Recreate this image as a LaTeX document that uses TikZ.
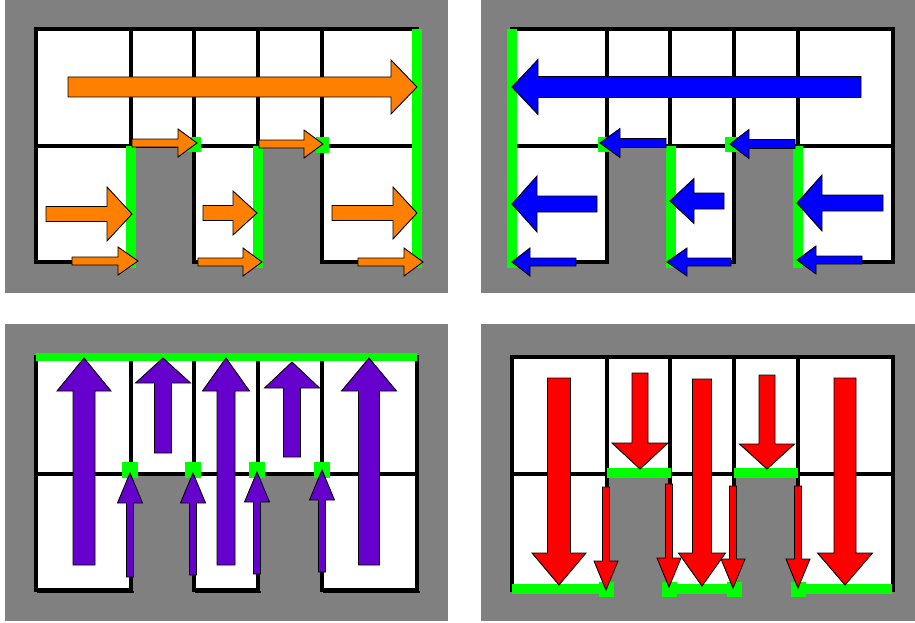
\documentclass[tikz,border=0pt]{standalone}

\definecolor{panelgray}{HTML}{808080}
\definecolor{doorgreen}{HTML}{00FF00}
\definecolor{floweast}{HTML}{FF8000}
\definecolor{flowwest}{HTML}{0000FF}
\definecolor{flownorth}{HTML}{6600CC}
\definecolor{flowsouth}{HTML}{FF0000}

% block arrow: style, tail, angle, length, body half width, head half width, head length
\newcommand{\flowarrow}[7]{%
    \draw[#1, shift={#2}, rotate=#3]
        (0,-#5) -- ({#4-#7},-#5) -- ({#4-#7},-#6) -- (#4,0)
        -- ({#4-#7},#6) -- ({#4-#7},#5) -- (0,#5) -- cycle;%
}

\begin{document}
\begin{tikzpicture}[
        x=1pt, y=-1pt,
        wall/.style={
            line width=3.5pt,
            line cap=rect
        },
        door/.style={
            doorgreen,
            line width=10pt
        },
        doorgap/.style={
            fill=doorgreen
        },
        eastflow/.style={
            draw=black,
            line width=0.9pt,
            fill=floweast
        },
        westflow/.style={
            eastflow,
            fill=flowwest
        },
        northflow/.style={
            eastflow,
            fill=flownorth
        },
        southflow/.style={
            eastflow,
            fill=flowsouth
        }
    ]

        \useasboundingbox (0,0) rectangle (915,623);
        \clip (0,0) rectangle (915,623);

        % ---------------------------------------------------------------------
        % Floor plans, the same in all four panels
        % ---------------------------------------------------------------------

        \foreach \dx/\dy in {0/0, 476/0, 0/328, 476/328} {
            \begin{scope}[shift={(\dx,\dy)}]
                \fill[panelgray] (5,-4) rectangle (448,293);
                \fill[white] (36,29) rectangle (417,146);
                \fill[white] (36,146) rectangle (131,262);
                \fill[white] (194,146) rectangle (258,262);
                \fill[white] (322,146) rectangle (417,262);

                \draw[wall]
                    (131,146) -- (131,262) -- (36,262) -- (36,29)
                    -- (417,29) -- (417,262) -- (322,262) -- (322,146);
                \draw[wall]
                    (194,146) -- (194,262) -- (258,262) -- (258,146);
                \draw[wall]
                    (36,146) -- (417,146);
                \foreach \cx in {131,194,258,322}
                    \draw[wall] (\cx,29) -- (\cx,146);
            \end{scope}
        }

        % shadow under the lower-left plan
        \draw[wall, line width=2.5pt]
            (38,592) -- (133,592);
        \draw[wall, line width=2.5pt]
            (196,592) -- (260,592);
        \draw[wall, line width=2.5pt]
            (324,592) -- (419,592);


        % ---------------------------------------------------------------------
        % Top left: flow to the east
        % ---------------------------------------------------------------------

        \draw[door] (417,29) -- (417,268);
        \draw[door] (131,146) -- (131,268);
        \draw[door] (258,146) -- (258,268);
        \fill[doorgap] (187,137) rectangle (201,152);
        \fill[doorgap] (316,137) rectangle (329,153);

        \flowarrow{eastflow}{(68,87)}{0}{349}{10}{27}{26}
        \flowarrow{eastflow}{(132,143)}{0}{65}{4}{14}{19}
        \flowarrow{eastflow}{(259,144)}{0}{64}{4}{14}{19}
        \flowarrow{eastflow}{(46,214)}{0}{86}{7.5}{27}{25}
        \flowarrow{eastflow}{(72,261)}{0}{66}{4}{14}{20}
        \flowarrow{eastflow}{(203,213)}{0}{54}{7.5}{22}{24}
        \flowarrow{eastflow}{(198,262)}{0}{64}{4}{14}{19}
        \flowarrow{eastflow}{(332,213)}{0}{85}{7.5}{26}{24}
        \flowarrow{eastflow}{(358,262)}{0}{65}{4}{14}{19}


        % ---------------------------------------------------------------------
        % Top right: flow to the west
        % ---------------------------------------------------------------------

        \draw[door] (512,29) -- (512,268);
        \draw[door] (671,146) -- (671,268);
        \draw[door] (798,146) -- (798,268);
        \fill[doorgap] (598,137) rectangle (612,152);
        \fill[doorgap] (725,137) rectangle (739,152);

        \flowarrow{westflow}{(861,87)}{180}{349}{10.5}{27.5}{26}
        \flowarrow{westflow}{(666,143)}{180}{66}{4.5}{14.5}{20}
        \flowarrow{westflow}{(795,144)}{180}{65}{4.5}{14.5}{19}
        \flowarrow{westflow}{(597,204)}{180}{85}{8}{28}{25}
        \flowarrow{westflow}{(576,262)}{180}{64}{4}{14}{18}
        \flowarrow{westflow}{(724,201)}{180}{54}{8}{22.5}{24}
        \flowarrow{westflow}{(731,262)}{180}{64}{4}{14}{20}
        \flowarrow{westflow}{(883,203)}{180}{86}{8}{28}{25}
        \flowarrow{westflow}{(862,260)}{180}{65}{4}{14}{19}


        % ---------------------------------------------------------------------
        % Bottom left: flow to the north
        % ---------------------------------------------------------------------

        \draw[door, line width=8pt] (36,357) -- (417,357);
        \foreach \gx/\gy in {130/470, 193/470, 257/470, 322/470}
            \fill[doorgap] (\gx-8,\gy-8) rectangle (\gx+8,\gy+8);

        \flowarrow{northflow}{(84,565)}{90}{207}{11}{27}{33}
        \flowarrow{northflow}{(163,453)}{90}{95}{8.5}{27.5}{25}
        \flowarrow{northflow}{(226,565)}{90}{207}{9}{23.5}{33}
        \flowarrow{northflow}{(292,457)}{90}{95}{8.5}{27.5}{26}
        \flowarrow{northflow}{(369,565)}{90}{207}{10.5}{27.5}{33}
        \flowarrow{northflow}{(130,577)}{90}{104}{3.5}{12.5}{30}
        \flowarrow{northflow}{(193,575)}{90}{102}{3.5}{12.5}{30}
        \flowarrow{northflow}{(257,574)}{90}{102}{3.5}{12.5}{30}
        \flowarrow{northflow}{(322,572)}{90}{102}{3.5}{12.5}{30}


        % ---------------------------------------------------------------------
        % Bottom right: flow to the south
        % ---------------------------------------------------------------------

        \draw[door] (512,589) -- (607,589);
        \draw[door] (671,589) -- (734,589);
        \draw[door] (798,589) -- (892,589);
        \draw[door] (607,473) -- (671,473);
        \draw[door] (734,473) -- (798,473);
        \foreach \gx in {606, 669, 734, 798}
            \fill[doorgap] (\gx-7.5,582) rectangle (\gx+7.5,597);

        \flowarrow{southflow}{(559,378)}{-90}{207}{11.5}{27}{32}
        \flowarrow{southflow}{(640,373)}{-90}{96}{8}{28}{26}
        \flowarrow{southflow}{(702,379)}{-90}{207}{9.5}{23.5}{33}
        \flowarrow{southflow}{(767,375)}{-90}{94}{8}{27.5}{25}
        \flowarrow{southflow}{(845,378)}{-90}{207}{11}{27.5}{32}
        \flowarrow{southflow}{(606,487)}{-90}{103}{3.5}{12}{29}
        \flowarrow{southflow}{(669,484)}{-90}{103}{3.5}{12}{29}
        \flowarrow{southflow}{(733,486)}{-90}{102}{3.5}{12}{29}
        \flowarrow{southflow}{(798,486)}{-90}{102}{3.5}{12}{29}

    \end{tikzpicture}
\end{document}
